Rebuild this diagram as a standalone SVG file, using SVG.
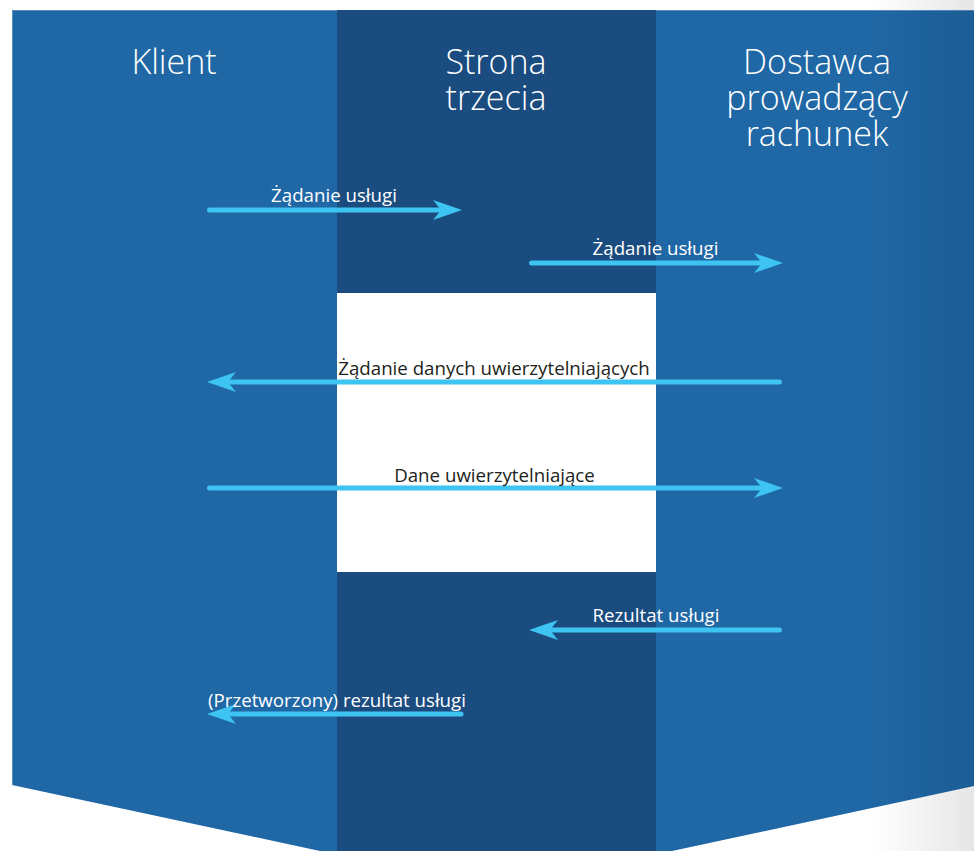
<svg xmlns="http://www.w3.org/2000/svg" width="974" height="851" viewBox="0 0 974 851">
<style>
.title{font-family:"Open Sans","Noto Sans",sans-serif;font-weight:300;font-size:34px;fill:#ffffff;text-anchor:middle}
.lbl{font-family:"Open Sans","Noto Sans",sans-serif;font-size:18.7px;text-anchor:middle}
.w{fill:#ffffff}
.d{fill:#231f20}
.arr{stroke:#3ec4f2;stroke-width:5;stroke-linecap:round;fill:none;marker-end:url(#ah)}
</style>
<defs>
<marker id="ah" viewBox="0 0 30 22" refX="9" refY="11" markerWidth="30" markerHeight="22" markerUnits="userSpaceOnUse" orient="auto">
<path d="M30,11 L1,1 L9,11 L1,21 Z" fill="#3ec4f2"/>
</marker>
<linearGradient id="shade" x1="0" y1="0" x2="1" y2="0">
<stop offset="0" stop-color="#000" stop-opacity="0"/>
<stop offset="1" stop-color="#000" stop-opacity="0.1"/>
</linearGradient>
</defs>
<rect width="974" height="851" fill="#ffffff"/>
<g id="klient">
<polygon points="12,10 337,10 337,851 320,851 12,785" fill="#1f67a5"/>
<line x1="12.5" y1="10" x2="12.5" y2="785" stroke="#5b8fc2" stroke-width="1"/>
<line x1="12" y1="10.5" x2="337" y2="10.5" stroke="#5b8fc2" stroke-width="1"/>
<text class="title" x="174" y="74">Klient</text>
</g>
<g id="strona">
<rect x="337" y="10" width="319" height="841" fill="#1a4c7f"/>
<rect x="337" y="293" width="319" height="279" fill="#ffffff"/>
<text class="title" x="496" y="74">Strona</text>
<text class="title" x="496" y="110">trzecia</text>
</g>
<g id="dostawca">
<polygon points="656,10 974,10 974,786 672,851 656,851" fill="#1f67a5"/>
<line x1="656" y1="10.5" x2="974" y2="10.5" stroke="#5b8fc2" stroke-width="1"/>
<text class="title" x="817" y="74">Dostawca</text>
<text class="title" x="817" y="110">prowadzący</text>
<text class="title" x="817" y="146">rachunek</text>
</g>
<rect x="870" y="0" width="104" height="851" fill="url(#shade)"/>
<g id="connectors">
<line class="arr" x1="209.5" y1="210" x2="441" y2="210"/>
<line class="arr" x1="531.5" y1="263" x2="762" y2="263"/>
<line class="arr" x1="779.5" y1="382" x2="228" y2="382"/>
<line class="arr" x1="209.5" y1="488" x2="762" y2="488"/>
<line class="arr" x1="779.5" y1="630" x2="550" y2="630"/>
<line class="arr" x1="461" y1="714" x2="228" y2="714"/>
<text class="lbl w" x="334" y="202">Żądanie usługi</text>
<text class="lbl w" x="655.5" y="255">Żądanie usługi</text>
<text class="lbl d" x="494" y="375">Żądanie danych uwierzytelniających</text>
<text class="lbl d" x="494.5" y="482">Dane uwierzytelniające</text>
<text class="lbl w" x="656" y="622">Rezultat usługi</text>
<text class="lbl w" x="337" y="707">(Przetworzony) rezultat usługi</text>
</g>
</svg>
